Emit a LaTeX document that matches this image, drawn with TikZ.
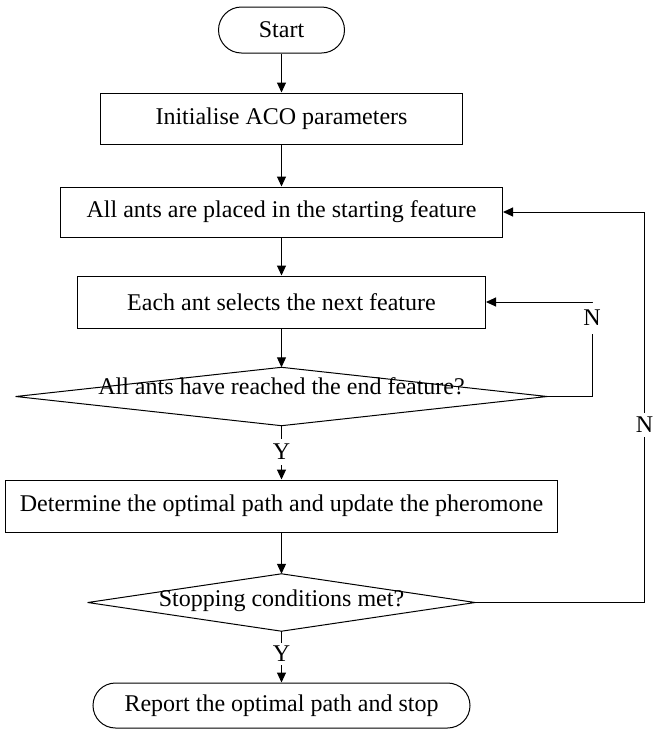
\documentclass[tikz,border=0pt]{standalone}
\usepackage{fontspec}
\setmainfont{Liberation Serif}
\usetikzlibrary{arrows.meta,shapes.misc}
\begin{document}
\begin{tikzpicture}[x=1pt,y=-1pt,
  every node/.style={font=\fontsize{24}{28}\selectfont},
  box/.style={draw,rectangle,inner sep=0pt,line width=1pt},
  term/.style={draw,rounded rectangle,inner sep=0pt,line width=1pt},
  dec/.style={rectangle,inner sep=0pt},
  lbl/.style={inner xsep=1pt,inner ysep=0pt},
  line/.style={line width=1pt},
  arr/.style={line width=1pt,-{Triangle[length=10pt,width=9pt]}}]
\useasboundingbox (0,0) rectangle (654,729);
% nodes
\node[term,minimum width=126pt,minimum height=46pt] (start) at (281.5,30) {Start};
\node[box,minimum width=362pt,minimum height=51pt] (init) at (281.5,118.5) {Initialise ACO parameters};
\node[box,minimum width=442pt,minimum height=50pt] (place) at (281.5,212) {All ants are placed in the starting feature};
\node[box,minimum width=408pt,minimum height=52pt] (sel) at (281.5,302) {Each ant selects the next feature};
\node[dec,minimum width=531pt,minimum height=58pt] (d1) at (281.5,396.5) {};
\draw[line,line join=round] (d1.west)--(d1.north)--(d1.east)--(d1.south)--cycle;
\node[anchor=base,inner sep=0pt] (t1) at (281.5,394) {All ants have reached the end feature?};
\node[lbl,inner ysep=5pt] (y1) at (281.5,452) {Y};
\node[box,minimum width=552pt,minimum height=52pt] (det) at (281.5,506) {Determine the optimal path and update the pheromone};
\node[dec,minimum width=387pt,minimum height=57pt] (d2) at (281.5,602.5) {};
\draw[line,line join=round] (d2.west)--(d2.north)--(d2.east)--(d2.south)--cycle;
\node[anchor=base,inner sep=0pt] (t2) at (281.5,606) {Stopping conditions met?};
\node[lbl,inner ysep=3pt] (y2) at (281.5,654) {Y};
\node[term,minimum width=377pt,minimum height=45pt] (stop) at (281.5,705.5) {Report the optimal path and stop};
\node[lbl,inner ysep=8pt] (n1) at (592,318) {N};
\node[lbl,inner ysep=4pt] (n2) at (644.5,425) {N};
% connectors
\draw[arr] (start.south) -- (init.north);
\draw[arr] (init.south) -- (place.north);
\draw[arr] (place.south) -- (sel.north);
\draw[arr] (sel.south) -- (d1.north);
\draw[line] (d1.south) -- (y1.north);
\draw[arr] (y1.south) -- (det.north);
\draw[arr] (det.south) -- (d2.north);
\draw[line] (d2.south) -- (y2.north);
\draw[arr] (y2.south) -- (stop.north);
\draw[line] (d1.east) -| (n1.south);
\draw[arr] (n1.north) |- (sel.east);
\draw[line] (d2.east) -| (n2.south);
\draw[arr] (n2.north) |- (place.east);
\end{tikzpicture}
\end{document}
